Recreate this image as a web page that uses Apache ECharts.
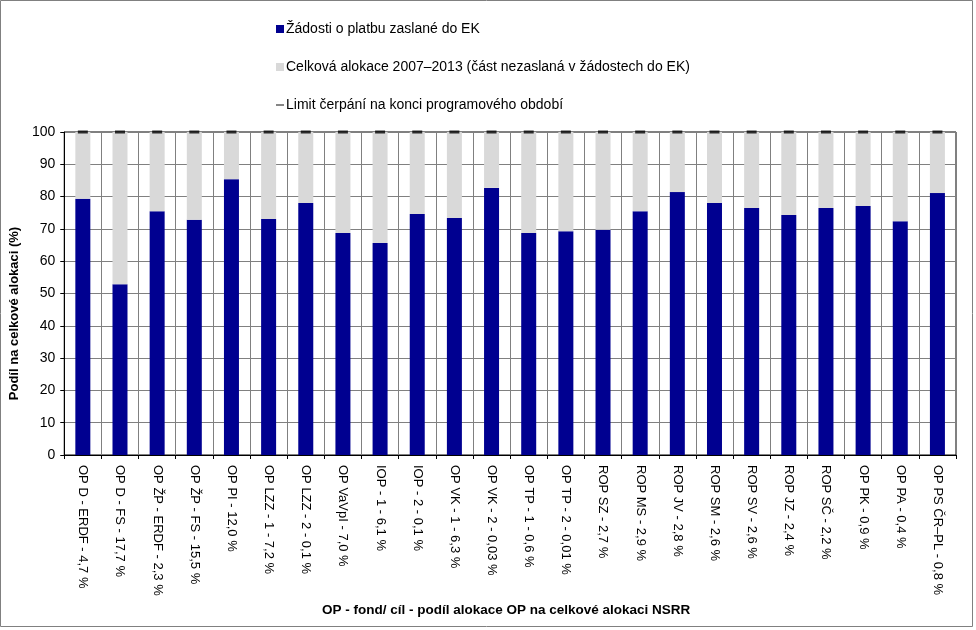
<!DOCTYPE html>
<html><head><meta charset="utf-8">
<script src="https://cdn.jsdelivr.net/npm/echarts@6/dist/echarts.min.js"></script>
<style>html,body{margin:0;padding:0;background:#fff}#c{width:976px;height:630px}</style>
</head><body><div id="c"></div>
<script>
const categories = ['OP D - ERDF - 4,7 %','OP D - FS - 17,7 %','OP ŽP - ERDF - 2,3 %','OP ŽP - FS - 15,5 %','OP PI - 12,0 %','OP LZZ - 1 - 7,2 %','OP LZZ - 2 - 0,1 %','OP VaVpI - 7,0 %','IOP - 1 - 6,1 %','IOP - 2 - 0,1 %','OP VK - 1 - 6,3 %','OP VK - 2 - 0,03 %','OP TP - 1 - 0,6 %','OP TP - 2 - 0,01 %','ROP SZ - 2,7 %','ROP MS - 2,9 %','ROP JV - 2,8 %','ROP SM - 2,6 %','ROP SV - 2,6 %','ROP JZ - 2,4 %','ROP SČ - 2,2 %','OP PK - 0,9 %','OP PA - 0,4 %','OP PS ČR–PL - 0,8 %'];
const submitted = [79.3,52.9,75.5,72.8,85.4,73.1,78.0,68.7,65.6,74.6,73.4,82.7,68.7,69.3,69.7,75.5,81.4,78.0,76.5,74.3,76.5,77.1,72.4,81.1];
const remaining = submitted.map(v => +(100 - v).toFixed(1));
const limit = [100,100,100,100,100,100,100,100,100,100,100,100,100,100,100,100,100,100,100,100,100,100,100,100];
const yTicks = [0,10,20,30,40,50,60,70,80,90,100];
const seriesNames = ['Žádosti o platbu zaslané do EK','Celková alokace 2007–2013 (část nezaslaná v žádostech do EK)','Limit čerpání na konci programového období'];

const chart = echarts.init(document.getElementById('c'));
chart.setOption({
  animation: false,
  textStyle: {fontFamily: 'Liberation Sans, Arial, sans-serif', color: '#000'},
  graphic: [{type: 'rect', shape: {x: 0.5, y: 0.5, width: 972, height: 626}, style: {fill: null, stroke: '#808080', lineWidth: 1}, silent: true}],
  legend: {
    orient: 'vertical', left: 271, top: 17, itemGap: 24, itemWidth: 8, itemHeight: 8,
    textStyle: {fontSize: 14, color: '#000', fontFamily: 'Liberation Sans, Arial, sans-serif', padding: [0, 0, 0, -3]},
    data: [
      {name: seriesNames[0], icon: 'rect'},
      {name: seriesNames[1], icon: 'rect'},
      {name: seriesNames[2], icon: 'path://M0,0M8,8M0,3.4H8V4.6H0Z'}
    ]
  },
  grid: {left: 63, right: 20, top: 132, bottom: 175, show: true, borderColor: '#000', borderWidth: 1},
  xAxis: {
    type: 'category', data: categories,
    axisLine: {lineStyle: {color: '#000'}},
    axisTick: {show: true, length: 4, lineStyle: {color: '#000'}},
    splitLine: {show: true, lineStyle: {color: '#808080'}},
    axisLabel: {rotate: -90, interval: 0, fontSize: 13, color: '#000', margin: 10},
    name: 'OP - fond/ cíl - podíl alokace OP na celkové alokaci NSRR',
    nameLocation: 'middle', nameGap: 147,
    nameTextStyle: {fontWeight: 'bold', fontSize: 13.5, color: '#000', padding: [0, 8, 0, 0]}
  },
  yAxis: {
    type: 'value', min: 0, max: 100, interval: 10,
    axisLine: {show: true, lineStyle: {color: '#000'}},
    axisTick: {show: true, length: 4, lineStyle: {color: '#000'}},
    splitLine: {show: true, lineStyle: {color: '#808080'}},
    axisLabel: {fontSize: 14, color: '#000', margin: 9, formatter: v => yTicks.includes(v) ? String(v) : ''},
    name: 'Podíl na celkové alokaci (%)', nameLocation: 'middle', nameGap: 36, nameRotate: 90,
    nameTextStyle: {fontWeight: 'bold', fontSize: 13, color: '#000', padding: [0, 40, 0, 0]}
  },
  series: [
    {name: seriesNames[0], type: 'bar', stack: 'a', data: submitted, barWidth: 15, itemStyle: {color: '#000090'}},
    {name: seriesNames[1], type: 'bar', stack: 'a', data: remaining, barWidth: 15, itemStyle: {color: '#d9d9d9'}},
    {name: seriesNames[2], type: 'scatter', data: limit, symbol: 'rect', symbolSize: [10, 3], itemStyle: {color: '#000'}, z: 5}
  ]
});
</script></body></html>
